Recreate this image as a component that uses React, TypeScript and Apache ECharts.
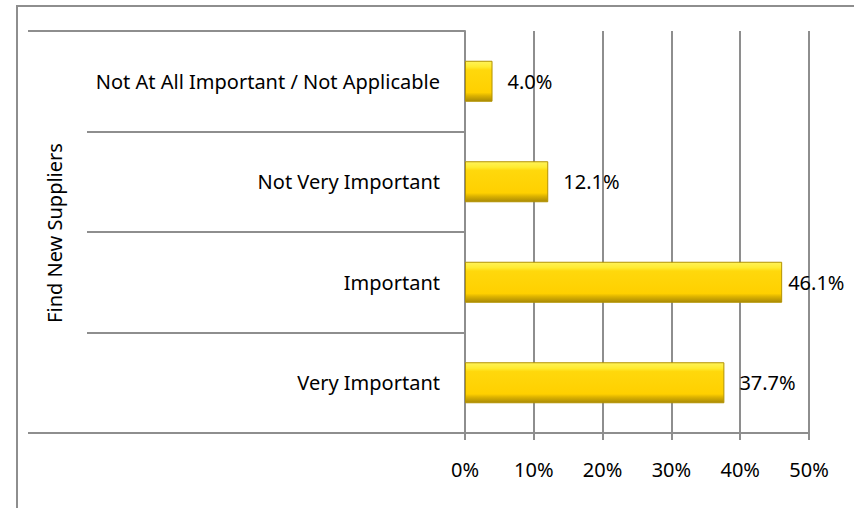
import React, { useEffect, useRef } from 'react';
import * as echarts from 'echarts';

const categories = [
  'Very Important',
  'Important',
  'Not Very Important',
  'Not At All Important / Not Applicable',
];
const values = [37.7, 46.1, 12.1, 4.0];
const xMin = 0;
const xMax = 50;
const xInterval = 10;
const groupLabel = 'Find New Suppliers';

const FONT = '"Noto Sans", "Open Sans", sans-serif';
const GRAY = '#8e8e8e';

export default function App() {
  const ref = useRef<HTMLDivElement>(null);

  useEffect(() => {
    if (!ref.current) return;
    const chart = echarts.init(ref.current, undefined, { renderer: 'svg' });

    const barColor = new echarts.graphic.LinearGradient(0, 0, 0, 1, [
      { offset: 0, color: '#FFF35A' },
      { offset: 0.14, color: '#FFEB30' },
      { offset: 0.22, color: '#FFD80C' },
      { offset: 0.78, color: '#FFD000' },
      { offset: 0.86, color: '#DDB300' },
      { offset: 1, color: '#A98A06' },
    ]);

    const data = values.map((v) => ({
      value: v,
      label: { distance: v > 45 ? 6 : 15 },
    }));

    chart.setOption({
      animation: false,
      backgroundColor: '#ffffff',
      textStyle: { fontFamily: FONT },
      grid: { left: 465, right: 45, top: 31, bottom: 75, containLabel: false },
      xAxis: {
        type: 'value',
        min: xMin,
        max: xMax,
        interval: xInterval,
        axisLine: { show: true, lineStyle: { color: GRAY, width: 2 } },
        axisTick: { show: true, length: 7, lineStyle: { color: GRAY, width: 2 } },
        splitLine: { show: true, lineStyle: { color: GRAY, width: 2 } },
        axisLabel: {
          formatter: '{value}%',
          color: '#000',
          fontSize: 20,
          fontFamily: FONT,
          margin: 26,
        },
      },
      yAxis: {
        type: 'category',
        data: categories,
        axisLine: { show: true, lineStyle: { color: GRAY, width: 2 } },
        axisTick: { show: true, length: 378, lineStyle: { color: GRAY, width: 2 } },
        axisLabel: {
          color: '#000',
          fontSize: 20,
          fontFamily: FONT,
          margin: 25,
        },
      },
      series: [
        {
          type: 'bar',
          data,
          barWidth: 41,
          itemStyle: {
            color: barColor,
            borderColor: '#B39200',
            borderWidth: 1,
          },
          label: {
            show: true,
            position: 'right',
            formatter: (p: any) => `${Number(p.value).toFixed(1)}%`,
            color: '#000',
            fontSize: 20,
            fontFamily: FONT,
          },
        },
      ],
      graphic: [
        {
          type: 'rect',
          shape: { x: 17, y: 6, width: 900, height: 600 },
          style: { fill: 'none', stroke: GRAY, lineWidth: 2 },
          silent: true,
        },
        {
          type: 'line',
          shape: { x1: 28, y1: 31, x2: 465, y2: 31 },
          style: { stroke: GRAY, lineWidth: 2 },
          silent: true,
        },
        {
          type: 'line',
          shape: { x1: 28, y1: 433, x2: 465, y2: 433 },
          style: { stroke: GRAY, lineWidth: 2 },
          silent: true,
        },
        {
          type: 'text',
          x: 54,
          y: 233,
          rotation: Math.PI / 2,
          style: {
            text: groupLabel,
            fill: '#000',
            fontSize: 20,
            fontFamily: FONT,
            align: 'center',
            verticalAlign: 'middle',
          },
          silent: true,
        },
      ],
    });

    return () => chart.dispose();
  }, []);

  return (
    <div
      ref={ref}
      style={{ position: 'fixed', left: 0, top: 0, width: 854, height: 508 }}
    />
  );
}
